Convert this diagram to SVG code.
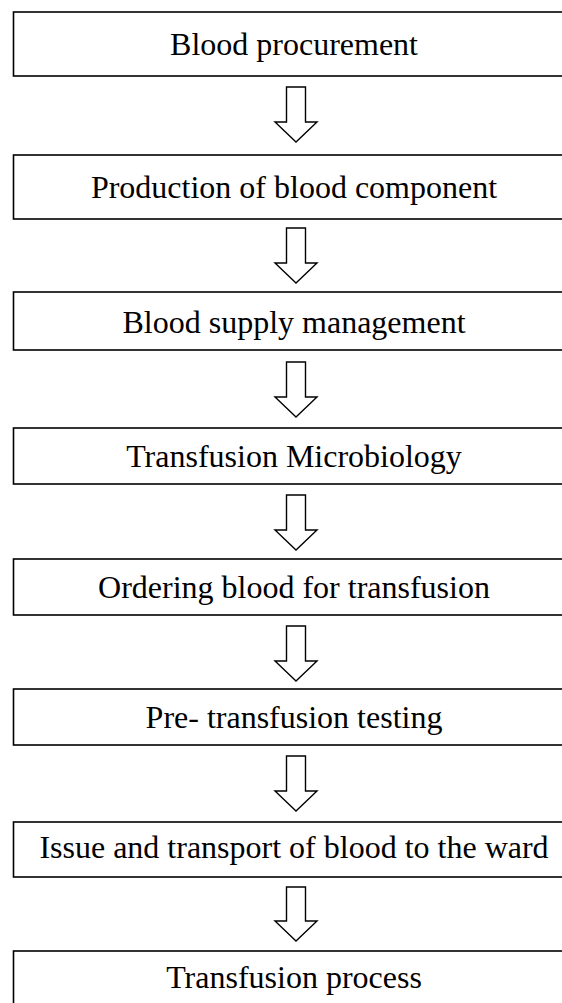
<svg xmlns="http://www.w3.org/2000/svg" width="562" height="1003" viewBox="0 0 562 1003">
<style>
.box{fill:#fff;stroke:#000;stroke-width:1.6}
.lbl{font-family:"Liberation Serif","Times New Roman",serif;font-size:32px;fill:#000;text-anchor:middle}
.arr{fill:#fff;stroke:#000;stroke-width:1.4;stroke-linejoin:miter}
</style>
<rect width="562" height="1003" fill="#fff"/>
<g id="connectors">
<path class="arr" d="M286.5 87 H305.5 V122 H317 L296 142 L275 122 H286.5 Z"/>
<path class="arr" d="M286.5 228 H305.5 V263 H317 L296 283 L275 263 H286.5 Z"/>
<path class="arr" d="M286.5 362 H305.5 V397 H317 L296 417 L275 397 H286.5 Z"/>
<path class="arr" d="M286.5 495 H305.5 V530 H317 L296 550 L275 530 H286.5 Z"/>
<path class="arr" d="M286.5 626 H305.5 V661 H317 L296 681 L275 661 H286.5 Z"/>
<path class="arr" d="M286.5 756 H305.5 V791 H317 L296 811 L275 791 H286.5 Z"/>
<path class="arr" d="M286.5 887 H305.5 V921 H317 L296 941 L275 921 H286.5 Z"/>
</g>
<g id="n1"><rect class="box" x="13.5" y="12" width="600" height="64"/><text class="lbl" x="294" y="55">Blood procurement</text></g>
<g id="n2"><rect class="box" x="13.5" y="155" width="600" height="64"/><text class="lbl" x="294" y="198">Production of blood component</text></g>
<g id="n3"><rect class="box" x="13.5" y="292" width="600" height="58"/><text class="lbl" x="294" y="333">Blood supply management</text></g>
<g id="n4"><rect class="box" x="13.5" y="428" width="600" height="56"/><text class="lbl" x="294" y="467">Transfusion Microbiology</text></g>
<g id="n5"><rect class="box" x="13.5" y="559" width="600" height="56"/><text class="lbl" x="294" y="598">Ordering blood for transfusion</text></g>
<g id="n6"><rect class="box" x="13.5" y="689" width="600" height="56"/><text class="lbl" x="294" y="728">Pre- transfusion testing</text></g>
<g id="n7"><rect class="box" x="13.5" y="822" width="600" height="55"/><text class="lbl" x="294" y="858">Issue and transport of blood to the ward</text></g>
<g id="n8"><rect class="box" x="13.5" y="951" width="600" height="80"/><text class="lbl" x="294" y="988">Transfusion process</text></g>
</svg>
